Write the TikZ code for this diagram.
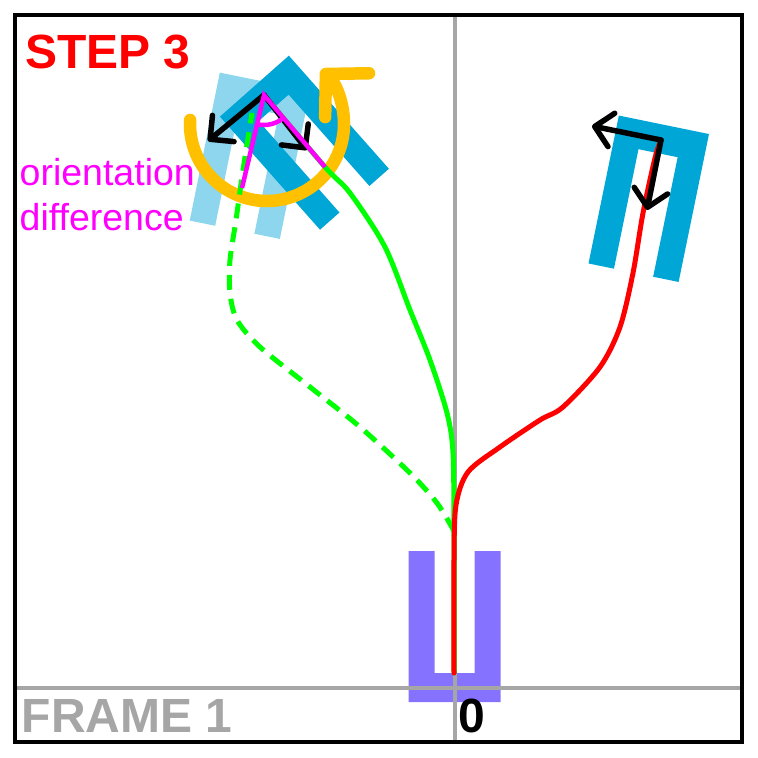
\documentclass[tikz,border=0pt]{standalone}
\usepackage{fontspec}
\setmainfont{Liberation Sans}
\usetikzlibrary{arrows.meta}
\definecolor{carblue}{RGB}{0,166,214}
\definecolor{ghostblue}{RGB}{142,214,238}
\definecolor{egopurple}{RGB}{133,115,255}
\definecolor{turnorange}{RGB}{255,192,0}
\definecolor{pathgreen}{RGB}{0,255,0}
\definecolor{pathred}{RGB}{255,0,0}
\definecolor{diffmagenta}{RGB}{255,0,255}
\definecolor{axisgrey}{RGB}{166,166,166}

\begin{document}
\begin{tikzpicture}
	 [x=1pt,y=-1pt,every node/.style={inner sep=0pt,anchor=base west},
	  bigtext/.style={font=\fontsize{48}{48}\selectfont\bfseries},
	  smalltext/.style={font=\fontsize{37.5}{37.5}\selectfont,text=diffmagenta},
	  traj/.style={line width=5pt,line cap=round,line join=round},
	  poseaxis/.style={line width=5.5pt,line cap=round,-{Straight Barb[length=17pt,width=34pt,round]}}]

	\useasboundingbox (0,0) rectangle (758,758);

%	vehicles: ego, start pose, current pose, goal pose
	\foreach \cx/\cy/\ang/\col in {454.5/687.5/180/egopurple,262/96/-11.5/ghostblue,264/97/41.5/carblue,661/139/-11.6/carblue}
	  \fill[\col,shift={(\cx,\cy)},rotate=\ang] (-46,-14.5) -- (46,-14.5) -- (46,136.5) -- (20,136.5)
	    -- (20,14.5) -- (-20,14.5) -- (-20,136.5) -- (-46,136.5) -- cycle;

	\draw[axisgrey,line width=4pt] (455,15) -- (455,742);
	\draw[axisgrey,line width=4pt] (15,688) -- (742,688);

	  \coordinate (rc) at (267,124);
	  \coordinate (ca) at (264,95);
	  \coordinate (cx) at (208,141);
	  \coordinate (cy) at (307,150);
	  \coordinate (ga) at (661,140);
	  \coordinate (gx) at (592,126);
	  \coordinate (gy) at (647,210);
	  \coordinate (ml) at (242,188);
	  \coordinate (mr) at (325,167);

%	rotation to the goal orientation
	\draw[turnorange,line width=12.5pt,line cap=round,-{Straight Barb[length=30pt,width=62pt,round]}]
	  (rc) ++(183:77) arc[start angle=183,end angle=-45,radius=77];

	\draw[traj,pathgreen,dash pattern=on 15pt off 9pt,line cap=butt] plot[smooth,tension=0.5] coordinates
	  {(454,531) (437,503) (410,473) (360,427) (310,387) (260,347) (237,320) (230,293) (230,260) (236,220) (243,170) (252,113)};
	\draw[traj,pathgreen] plot[smooth,tension=0.5] coordinates
	  {(454,673) (454,537) (453,453) (447,413) (430,360) (410,310) (385,247) (350,193) (325,167) (264,95)};
	\draw[traj,pathred] plot[smooth,tension=0.5] coordinates
	  {(454,673) (454,560) (456,505) (468,472) (500,447) (540,420) (563,407) (600,367) (620,327) (633,273) (643,213) (655,158) (661,140)};

	\foreach \from/\to in {ca/cx,ca/cy,ga/gx,ga/gy}
    \draw[poseaxis] (\from) -- (\to);

	\draw[diffmagenta,line width=4.5pt] (ml) -- (ca) -- (mr);
	\draw[diffmagenta,line width=4.5pt] (ca) ++(102.7:30) arc[start angle=102.7,end angle=49.3,radius=30];

	  \node[bigtext,text=pathred] (step) at (25,68) {STEP 3};
	  \node[smalltext] (ori) at (19.5,185) {orientation};
	  \node[smalltext] (diff) at (19.5,230) {difference};
	  \node[bigtext,text=axisgrey] (frame) at (21.5,732) {FRAME 1};
	  \node[bigtext] (zero) at (458,732) {0};

	\draw[line width=4pt] (15,15) rectangle (742,742);

\end{tikzpicture}
\end{document}
